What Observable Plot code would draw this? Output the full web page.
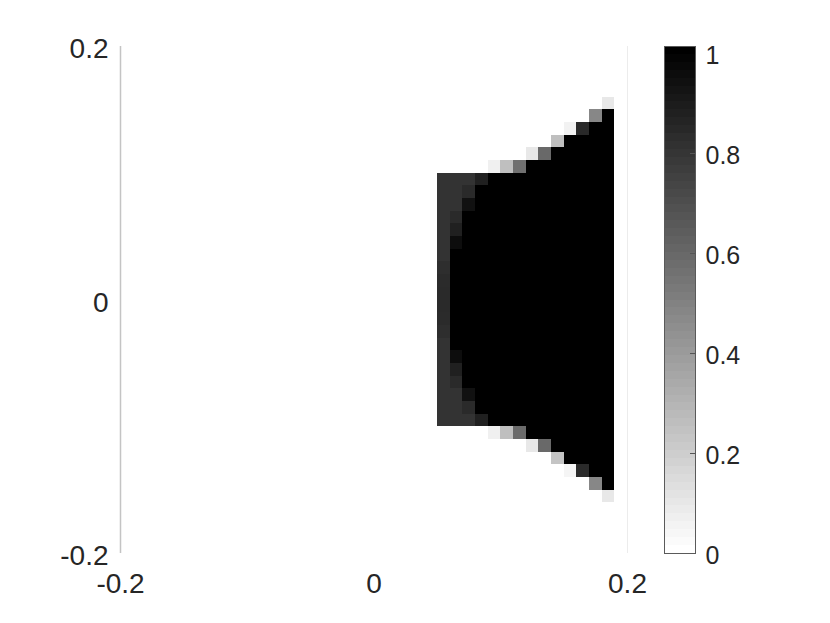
<!DOCTYPE html>
<html><head><meta charset="utf-8">
<script src="https://cdn.jsdelivr.net/npm/d3@7"></script>
<script src="https://cdn.jsdelivr.net/npm/@observablehq/plot@0.6"></script>
<style>
html,body{margin:0;padding:0;background:#fff;}
#wrap{position:relative;width:830px;height:623px;}
#wrap svg{position:absolute;left:0;top:0;}
</style></head><body><div id="wrap"></div>
<script>
// axis limits and ticks
const axisLimits = [-0.2, 0.2];
const axisTicks = [-0.2, 0, 0.2];
const cellSize = 0.01;
// left edges of the non-empty columns
const colLeft = [0.05,0.06,0.07,0.08,0.09,0.10,0.11,0.12,0.13,0.14,0.15,0.16,0.17,0.18];
// bottom edges of rows, top to bottom
const rowBottom = [0.15,0.14,0.13,0.12,0.11,0.10,0.09,0.08,0.07,0.06,0.05,0.04,0.03,0.02,0.01,0.00,
  -0.01,-0.02,-0.03,-0.04,-0.05,-0.06,-0.07,-0.08,-0.09,-0.10,-0.11,-0.12,-0.13,-0.14,-0.15,-0.16];
// cell values per row (columns as colLeft)
const cellValues = [
  [0,0,0,0,0,0,0,0,0,0,0,0,0,0.09],
  [0,0,0,0,0,0,0,0,0,0,0,0,0.47,1],
  [0,0,0,0,0,0,0,0,0,0,0.05,0.84,1,1],
  [0,0,0,0,0,0,0,0,0,0.25,1,1,1,1],
  [0,0,0,0,0,0,0,0.09,0.59,1,1,1,1,1],
  [0,0,0,0,0.06,0.25,0.56,1,1,1,1,1,1,1],
  [0.8,0.8,0.8,0.875,1,1,1,1,1,1,1,1,1,1],
  [0.8,0.8,0.835,1,1,1,1,1,1,1,1,1,1,1],
  [0.8,0.8,0.933,1,1,1,1,1,1,1,1,1,1,1],
  [0.8,0.835,1,1,1,1,1,1,1,1,1,1,1,1],
  [0.8,0.875,1,1,1,1,1,1,1,1,1,1,1,1],
  [0.8,0.95,1,1,1,1,1,1,1,1,1,1,1,1],
  [0.8,1,1,1,1,1,1,1,1,1,1,1,1,1],
  [0.82,1,1,1,1,1,1,1,1,1,1,1,1,1],
  [0.83,1,1,1,1,1,1,1,1,1,1,1,1,1],
  [0.835,1,1,1,1,1,1,1,1,1,1,1,1,1],
  [0.835,1,1,1,1,1,1,1,1,1,1,1,1,1],
  [0.83,1,1,1,1,1,1,1,1,1,1,1,1,1],
  [0.82,1,1,1,1,1,1,1,1,1,1,1,1,1],
  [0.8,1,1,1,1,1,1,1,1,1,1,1,1,1],
  [0.8,0.95,1,1,1,1,1,1,1,1,1,1,1,1],
  [0.8,0.875,1,1,1,1,1,1,1,1,1,1,1,1],
  [0.8,0.835,1,1,1,1,1,1,1,1,1,1,1,1],
  [0.8,0.8,0.933,1,1,1,1,1,1,1,1,1,1,1],
  [0.8,0.8,0.835,1,1,1,1,1,1,1,1,1,1,1],
  [0.8,0.8,0.8,0.875,1,1,1,1,1,1,1,1,1,1],
  [0,0,0,0,0.06,0.25,0.58,1,1,1,1,1,1,1],
  [0,0,0,0,0,0,0,0.09,0.59,1,1,1,1,1],
  [0,0,0,0,0,0,0,0,0,0.23,1,1,1,1],
  [0,0,0,0,0,0,0,0,0,0,0.04,0.835,1,1],
  [0,0,0,0,0,0,0,0,0,0,0,0,0.47,1],
  [0,0,0,0,0,0,0,0,0,0,0,0,0,0.09]
];
// colour limits and colorbar
const colorLimits = [0, 1];
const colorbarTop = 1.014;
const colorbarTicks = [0, 0.2, 0.4, 0.6, 0.8, 1];
const colormapLevels = 64;

const cells = [];
rowBottom.forEach((yb, r) => {
  colLeft.forEach((xl, c) => {
    cells.push({x1: xl, x2: xl + cellSize, y1: yb, y2: yb + cellSize, v: cellValues[r][c]});
  });
});

const fmt = d => d === 0 ? "0" : String(d);
const font = "'Liberation Sans', Arial, Helvetica, sans-serif";
const colorScale = {type: "linear", domain: colorLimits, range: ["#ffffff", "#000000"], interpolate: "rgb", clamp: true};

const main = Plot.plot({
  width: 830, height: 623,
  marginLeft: 120, marginRight: 203, marginTop: 46, marginBottom: 70,
  x: {domain: axisLimits, label: null},
  y: {domain: axisLimits, label: null},
  color: colorScale,
  style: {fontFamily: font, color: "#262626", background: "#ffffff"},
  marks: [
    Plot.rect(cells, {x1: "x1", x2: "x2", y1: "y1", y2: "y2", fill: "v", shapeRendering: "crispEdges"}),
    Plot.ruleX([axisLimits[0]], {stroke: "#c4c4c4", strokeWidth: 1.5}),
    Plot.ruleX([axisLimits[1]], {stroke: "#ececec"}),
    Plot.axisY(axisTicks, {anchor: "left", tickSize: 0, tickPadding: 12, fontSize: 28, dy: 3, tickFormat: fmt, label: null, fill: "#262626"}),
    Plot.axisX(axisTicks, {anchor: "bottom", tickSize: 0, tickPadding: 20, fontSize: 28, tickFormat: fmt, label: null, fill: "#262626"})
  ]
});

const cbLevels = d3.range(colormapLevels).map(i => ({
  lo: i * colorbarTop / colormapLevels,
  hi: (i + 1) * colorbarTop / colormapLevels,
  v: i / (colormapLevels - 1)
}));

const cb = Plot.plot({
  width: 830, height: 623,
  marginLeft: 664, marginRight: 135, marginTop: 46, marginBottom: 70,
  y: {domain: [0, colorbarTop], label: null},
  color: colorScale,
  style: {fontFamily: font, color: "#262626", background: "transparent"},
  marks: [
    Plot.rect(cbLevels, {y1: "lo", y2: "hi", fill: "v", shapeRendering: "crispEdges"}),
    Plot.frame({stroke: "#5a5a5a"}),
    Plot.tickY(colorbarTicks.slice(1, -1), {y: d => d, insetLeft: 26, stroke: "#555"}),
    Plot.axisY(colorbarTicks, {anchor: "right", tickSize: 0, tickPadding: 10, fontSize: 25, dy: 2, tickFormat: fmt, label: null, fill: "#262626"})
  ]
});

const wrap = document.getElementById("wrap");
wrap.appendChild(main);
wrap.appendChild(cb);
</script>
</body></html>
